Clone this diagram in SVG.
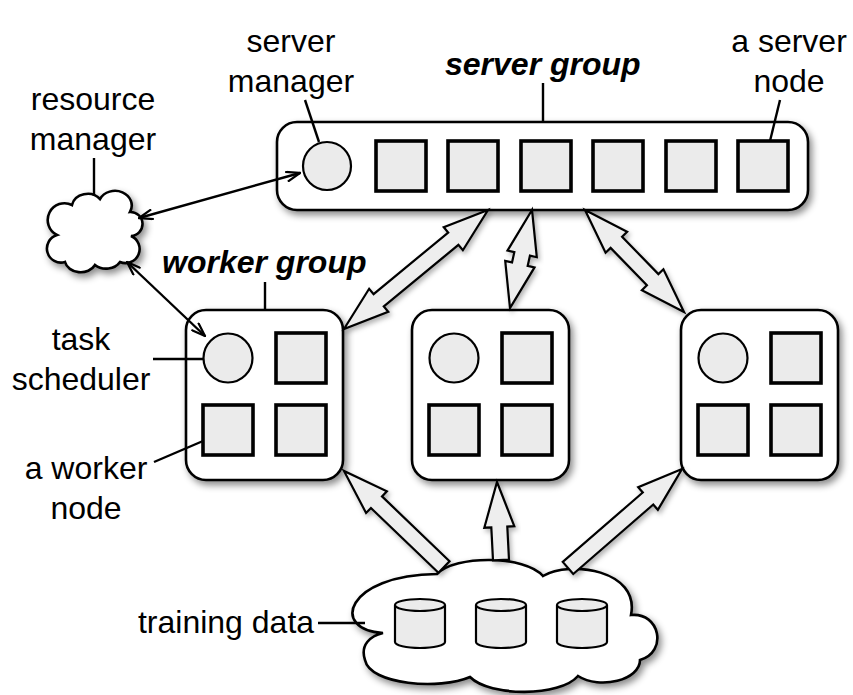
<svg xmlns="http://www.w3.org/2000/svg" width="853" height="695" viewBox="0 0 853 695">
<defs>
<filter id="sh" x="-20%" y="-20%" width="140%" height="150%">
<feDropShadow dx="3" dy="4" stdDeviation="3.5" flood-color="#000" flood-opacity="0.45"/>
</filter>
<filter id="shs" x="-20%" y="-20%" width="140%" height="140%">
<feDropShadow dx="2" dy="3" stdDeviation="2.5" flood-color="#000" flood-opacity="0.3"/>
</filter>
<marker id="ah" viewBox="0 0 16 12" refX="15" refY="6" markerWidth="16" markerHeight="12" markerUnits="userSpaceOnUse" orient="auto-start-reverse">
<path d="M1,1 L15,6 L1,11" fill="none" stroke="#000" stroke-width="2.2"/>
</marker>
</defs>
<style>
.box{fill:#fff;stroke:#000;stroke-width:2.6;filter:url(#sh)}
.sq{fill:#ebebeb;stroke:#000;stroke-width:3.6}
.ci{fill:#ebebeb;stroke:#000;stroke-width:2.2}
.cloud{fill:#fff;stroke:#000;stroke-width:2.6;filter:url(#sh)}
.cyl{fill:#ebebeb;stroke:#000;stroke-width:2.2}
.ba{fill:#eeeeee;stroke:#000;stroke-width:2.2;stroke-linejoin:miter;filter:url(#shs)}
.ln{fill:none;stroke:#000;stroke-width:2.4}
.ar{fill:none;stroke:#000;stroke-width:2.4;marker-start:url(#ah);marker-end:url(#ah)}
.t{font-family:"Liberation Sans",Arial,sans-serif;font-size:32px;fill:#000;text-anchor:middle}
.tb{font-family:"Liberation Sans",Arial,sans-serif;font-size:32px;font-weight:bold;font-style:italic;fill:#000}
</style>
<rect width="853" height="695" fill="#fff"/>

<g id="server-group">
<rect class="box" x="277" y="122" width="531" height="88" rx="20"/>
<circle id="server-manager" class="ci" cx="327" cy="166" r="24"/>
<rect id="server-node-1" class="sq" x="376" y="141" width="50" height="50"/>
<rect id="server-node-2" class="sq" x="448" y="141" width="50" height="50"/>
<rect id="server-node-3" class="sq" x="521" y="141" width="50" height="50"/>
<rect id="server-node-4" class="sq" x="593" y="141" width="50" height="50"/>
<rect id="server-node-5" class="sq" x="666" y="141" width="50" height="50"/>
<rect id="server-node-6" class="sq" x="738" y="141" width="50" height="50"/>
</g>

<g id="worker-group-1">
<rect class="box" x="186" y="310" width="157" height="170" rx="20"/>
<circle id="task-scheduler-1" class="ci" cx="228" cy="358" r="24.5"/>
<rect class="sq" x="276" y="333" width="50" height="50"/>
<rect id="worker-node-1" class="sq" x="203" y="405" width="50" height="50"/>
<rect class="sq" x="276" y="405" width="50" height="50"/>
</g>

<g id="worker-group-2">
<rect class="box" x="412" y="310" width="157" height="170" rx="20"/>
<circle class="ci" cx="454" cy="358" r="24.5"/>
<rect class="sq" x="502" y="333" width="50" height="50"/>
<rect class="sq" x="429" y="405" width="50" height="50"/>
<rect class="sq" x="502" y="405" width="50" height="50"/>
</g>

<g id="worker-group-3">
<rect class="box" x="681" y="310" width="157" height="170" rx="20"/>
<circle class="ci" cx="723" cy="358" r="24.5"/>
<rect class="sq" x="771" y="333" width="50" height="50"/>
<rect class="sq" x="698" y="405" width="50" height="50"/>
<rect class="sq" x="771" y="405" width="50" height="50"/>
</g>

<g id="resource-manager">
<path class="cloud" d="M57,235 A16,16 0 0 1 72,205 A16,14 0 0 1 100,199 A16,14 0 0 1 130,212 A12,12 0 0 1 131,236 A14,14 0 0 1 120,262 A16,13 0 0 1 95,265 A16,13 0 0 1 65,262 A14,14 0 0 1 57,235 Z"/>
</g>

<g id="training-data">
<path class="cloud" d="M383,633 C330,630 345,575 437,574 C455,555 525,555 543,576 C570,560 640,570 631,615 C660,612 668,652 640,660 C640,680 600,690 578,676 C560,697 490,697 470,677 C440,690 370,685 365,660 C360,645 370,636 383,633 Z"/>
<g id="data-1">
<path class="cyl" d="M395,605 L395,642 A25,6 0 0 0 445,642 L445,605"/>
<ellipse class="cyl" cx="420" cy="605" rx="25" ry="6"/>
</g>
<g id="data-2">
<path class="cyl" d="M476,605 L476,642 A25,6 0 0 0 526,642 L526,605"/>
<ellipse class="cyl" cx="501" cy="605" rx="25" ry="6"/>
</g>
<g id="data-3">
<path class="cyl" d="M557,605 L557,642 A25,6 0 0 0 607,642 L607,605"/>
<ellipse class="cyl" cx="582" cy="605" rx="25" ry="6"/>
</g>
</g>

<g id="connectors">
<polygon class="ba" points="488,210 443.75,227.11 448.21,232.5 373.59,294.16 369.14,288.77 344,329 388.25,311.89 383.79,306.5 458.41,244.84 462.87,250.23"/>
<polygon class="ba" points="532,210 507.5,250.63 514.34,252.16 512.05,262.34 505.22,260.81 510,308 534.5,267.38 527.67,265.84 529.95,255.66 536.78,257.2"/>
<polygon class="ba" points="585,210 605.58,252.75 610.61,247.87 646.91,285.27 641.88,290.15 684,312 663.42,269.25 658.39,274.13 622.09,236.73 627.12,231.85"/>
<polygon class="ba" points="449.54,561.23 382.01,496.4 386.86,491.35 344,471 366.08,512.99 370.93,507.94 438.46,572.77"/>
<polygon class="ba" points="508.99,559.59 507.29,526.53 514.28,526.17 497,482 484.32,527.71 491.31,527.35 493.01,560.41"/>
<polygon class="ba" points="573.25,574.04 653.27,504.54 657.85,509.83 682,469 638.19,487.18 642.78,492.46 562.76,561.96"/>
<line class="ar" x1="139" y1="218" x2="300" y2="173"/>
<line class="ar" x1="127" y1="262" x2="205" y2="336"/>
<line class="ln" x1="94" y1="158" x2="94" y2="196"/>
<line class="ln" x1="305" y1="100" x2="319" y2="142"/>
<line class="ln" x1="543" y1="83" x2="543" y2="122"/>
<line class="ln" x1="780" y1="100" x2="770" y2="141"/>
<line class="ln" x1="265" y1="282" x2="265" y2="310"/>
<line class="ln" x1="153" y1="359" x2="203" y2="359"/>
<line class="ln" x1="154" y1="462" x2="203" y2="441"/>
<line class="ln" x1="318" y1="623" x2="365" y2="623"/>
</g>

<g id="labels">
<text class="t" x="291" y="52">server</text>
<text class="t" x="291" y="92">manager</text>
<text class="tb" x="445" y="75">server group</text>
<text class="t" x="789" y="52">a server</text>
<text class="t" x="789" y="92">node</text>
<text class="t" x="93" y="110">resource</text>
<text class="t" x="93" y="150">manager</text>
<text class="tb" x="162" y="273">worker group</text>
<text class="t" x="81" y="350">task</text>
<text class="t" x="81" y="390">scheduler</text>
<text class="t" x="86" y="479">a worker</text>
<text class="t" x="86" y="519">node</text>
<text class="t" x="226" y="633">training data</text>
</g>
</svg>
